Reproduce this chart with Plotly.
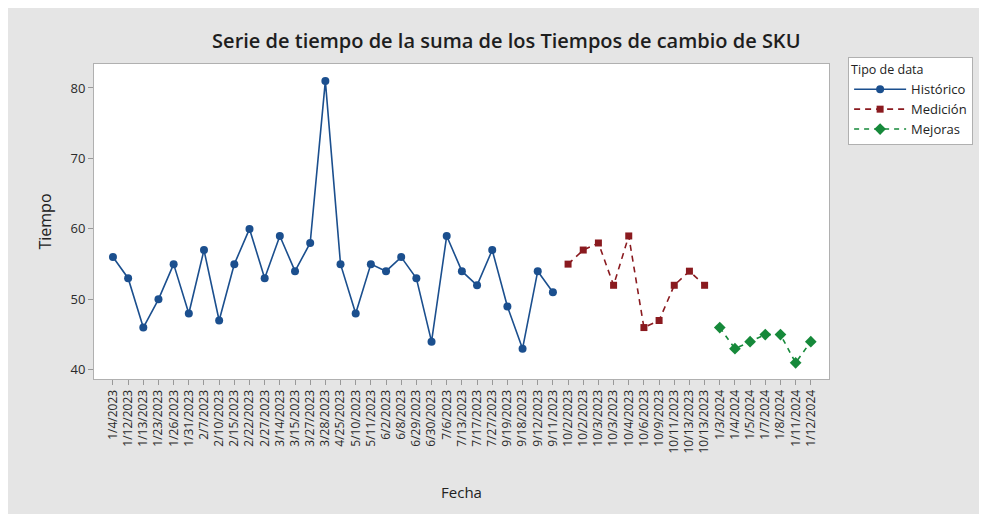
import plotly.graph_objects as go

hist_labels = ["1/4/2023", "1/12/2023", "1/13/2023", "1/23/2023", "1/26/2023", "1/31/2023",
               "2/7/2023", "2/10/2023", "2/15/2023", "2/22/2023", "2/27/2023", "3/14/2023",
               "3/15/2023", "3/27/2023", "3/28/2023", "4/25/2023", "5/10/2023", "5/11/2023",
               "6/2/2023", "6/8/2023", "6/29/2023", "6/30/2023", "7/6/2023", "7/13/2023",
               "7/17/2023", "7/27/2023", "9/19/2023", "9/18/2023", "9/12/2023", "9/11/2023"]
hist_values = [56, 53, 46, 50, 55, 48, 57, 47, 55, 60, 53, 59, 54, 58, 81,
               55, 48, 55, 54, 56, 53, 44, 59, 54, 52, 57, 49, 43, 54, 51]

med_labels = ["10/2/2023", "10/2/2023", "10/3/2023", "10/3/2023", "10/4/2023",
              "10/6/2023", "10/9/2023", "10/11/2023", "10/13/2023", "10/13/2023"]
med_values = [55, 57, 58, 52, 59, 46, 47, 52, 54, 52]

mej_labels = ["1/3/2024", "1/4/2024", "1/5/2024", "1/7/2024", "1/8/2024", "1/11/2024", "1/12/2024"]
mej_values = [46, 43, 44, 45, 45, 41, 44]

all_labels = hist_labels + med_labels + mej_labels
n_h, n_m = len(hist_labels), len(med_labels)
x_h = list(range(n_h))
x_m = list(range(n_h, n_h + n_m))
x_e = list(range(n_h + n_m, len(all_labels)))

FONT = "Open Sans, DejaVu Sans, sans-serif"
BLUE, RED, GREEN = "#1b4f8e", "#8a1a1f", "#16893a"

fig = go.Figure()
fig.add_trace(go.Scatter(x=x_h, y=hist_values, name="Histórico", mode="lines+markers",
                         line=dict(color=BLUE, width=1.6),
                         marker=dict(symbol="circle", size=8, color=BLUE)))
fig.add_trace(go.Scatter(x=x_m, y=med_values, name="Medición", mode="lines+markers",
                         line=dict(color=RED, width=1.6, dash="6px,5px"),
                         marker=dict(symbol="square", size=7, color=RED)))
fig.add_trace(go.Scatter(x=x_e, y=mej_values, name="Mejoras", mode="lines+markers",
                         line=dict(color=GREEN, width=1.6, dash="5px,5px"),
                         marker=dict(symbol="diamond", size=9, color=GREEN)))

fig.update_layout(
    width=979, height=506,
    paper_bgcolor="#e5e5e5", plot_bgcolor="white",
    font=dict(family=FONT, color="#222222"),
    margin=dict(l=86, r=158, t=56, b=135),
    title=dict(text="Serie de tiempo de la suma de los Tiempos de cambio de SKU",
               x=0.509, xanchor="center", y=0.935, yanchor="middle",
               font=dict(size=20, color="#1e1e1e", weight=600)),
    xaxis=dict(range=[-1.25, 47.2], tickmode="array",
               tickvals=list(range(len(all_labels))), ticktext=all_labels,
               tickangle=-90, tickfont=dict(size=12, color="#2a2a2a"), ticks="outside", ticklen=5,
               tickcolor="#999999", showgrid=False, zeroline=False,
               showline=True, linecolor="#b0b0b0", mirror=True,
               title=dict(text="Fecha", font=dict(size=15), standoff=34)),
    yaxis=dict(range=[38.7, 83.4], tickvals=[40, 50, 60, 70, 80],
               tickfont=dict(size=13, color="#2a2a2a"), ticks="outside", ticklen=5, tickcolor="#999999",
               showgrid=False, zeroline=False, showline=True, linecolor="#b0b0b0", mirror=True,
               title=dict(text="Tiempo", font=dict(size=16), standoff=14)),
    legend=dict(x=1.026, y=1.022, xanchor="left", yanchor="top",
                bgcolor="white", bordercolor="#b0b0b0", borderwidth=1,
                title=dict(text="Tipo de data", font=dict(size=12.5)),
                font=dict(size=13), itemwidth=52, tracegroupgap=0),
    showlegend=True,
)

fig.write_html("out.html")
